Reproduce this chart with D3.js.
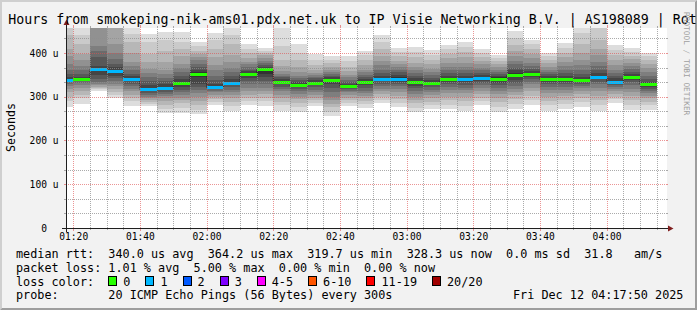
<!DOCTYPE html>
<html>
<head>
<meta charset="utf-8">
<script src="https://cdn.jsdelivr.net/npm/d3@7"></script>
<style>
  body { margin: 0; background: #f2f2f2; }
  svg { display: block; }
  text { font-family: "DejaVu Sans Mono", monospace; }
</style>
</head>
<body>
<svg id="chart" width="697" height="310"></svg>
<script>
// 5 minute bins (start time of each step, UTC)
var slots = ["01:15","01:20","01:25","01:30","01:35","01:40","01:45","01:50","01:55",
             "02:00","02:05","02:10","02:15","02:20","02:25","02:30","02:35","02:40",
             "02:45","02:50","02:55","03:00","03:05","03:10","03:15","03:20","03:25",
             "03:30","03:35","03:40","03:45","03:50","03:55","04:00","04:05","04:10"];

// median rtt per bin, microseconds
var medians = [338, 340, 364, 359.5, 341, 318, 320, 332, 352, 323, 332, 352,
               364, 334, 327.6, 332, 338, 324.6, 334, 341, 341, 334, 332, 341,
               341, 343.6, 341, 350, 352.7, 341, 341, 337.5, 346, 334.5, 346, 328.3];

// lost pings per bin (of 20)
var lost = [1,0,1,1,1,1,1,0,0,1,1,0,0,0,0,0,0,0,0,1,1,0,0,0,1,1,0,0,0,0,0,0,1,1,0,0];

// sorted ping rtts per bin (smoke), microseconds
var pings = [
  [276,290,300,310,318,325,330,334,337,339,341,345,352,362,375,392,410,440,470,500],
  [284,296,305,313,320,326,331,335,338,340,342,346,352,360,370,385,398,420,440,458],
  [314,317,320,323,326,330,334,340,350,362,366,370,390,405,416,470,500,540,600,700],
  [298,305,310,318,325,330,336,342,348,357,362,367,374,386,400,420,470,520,600,700],
  [279,290,298,305,312,318,325,330,335,340,343,347,352,360,370,380,400,424,443,475],
  [279,284,288,292,296,300,304,308,312,316,320,326,335,345,355,363,380,397,425,443],
  [262,272,282,290,296,302,307,311,315,318,322,328,335,343,352,362,380,405,430,448],
  [262,275,285,292,298,304,310,316,322,328,334,340,348,356,365,375,392,410,425,448],
  [260,270,280,290,300,308,315,322,330,345,356,362,368,375,383,390,398,405,415,425],
  [280,288,295,300,305,310,314,317,320,322,325,330,338,348,360,372,390,410,430,445],
  [267,278,288,296,303,310,316,322,327,330,334,340,348,356,365,380,395,420,440,470],
  [280,290,298,305,312,320,328,335,342,350,354,358,362,368,374,380,388,400,410,420],
  [279,290,298,306,314,320,328,336,344,352,365,368,372,376,382,388,395,400,405,412],
  [268,280,288,296,304,312,318,323,328,332,336,340,344,348,352,358,370,385,416,480],
  [266,276,286,294,300,306,312,317,322,326,330,334,338,342,348,356,368,385,400,420],
  [278,286,292,298,304,310,316,322,327,330,334,338,342,346,350,355,362,372,385,398],
  [256,266,276,284,292,300,310,320,330,336,340,344,348,352,356,362,368,376,385,393],
  [279,286,292,298,304,310,314,318,321,324,327,330,334,338,344,350,358,368,382,394],
  [275,283,290,296,302,308,314,320,326,332,336,340,345,350,356,362,372,384,395,404],
  [286,293,300,306,312,318,324,330,335,339,343,348,354,362,372,382,393,410,425,440],
  [277,286,294,302,310,318,325,330,334,338,344,350,356,362,368,374,382,392,402,411],
  [265,275,285,293,300,307,313,319,325,331,337,342,348,354,360,368,378,390,402,414],
  [271,280,288,296,303,310,316,322,327,331,334,338,343,349,356,364,374,385,396,407],
  [271,282,292,300,308,315,322,328,334,339,343,348,354,360,368,378,388,398,408,418],
  [268,278,290,300,308,315,321,327,333,339,343,348,354,360,368,378,390,402,414,426],
  [281,290,298,306,313,320,326,332,337,342,346,350,355,360,366,374,382,390,400,408],
  [264,276,288,298,306,314,320,326,332,338,344,348,352,357,362,368,374,382,388,395],
  [273,284,294,303,311,318,325,332,338,346,354,360,366,374,382,392,404,418,434,451],
  [281,292,302,312,320,328,334,340,346,351,355,359,364,370,378,388,398,408,420,430],
  [268,280,290,300,308,316,322,328,334,339,343,347,351,356,362,368,376,384,392,399],
  [273,283,292,301,309,316,322,328,334,339,343,348,354,362,370,380,390,400,411,422],
  [277,288,298,306,313,319,325,330,334,337,340,345,352,360,372,385,400,420,445,470],
  [268,280,292,302,312,320,328,334,340,344,348,354,362,370,380,395,410,430,460,490],
  [286,294,300,306,312,317,322,327,331,334,337,342,348,355,362,372,384,396,407,418],
  [270,282,292,302,310,318,326,333,339,344,348,352,357,363,370,378,386,394,402,411],
  [270,280,288,296,302,308,313,318,322,326,330,334,340,347,356,365,374,383,392,401]
];

var lossLabels = ["0", "1", "2", "3", "4-5", "6-10", "11-19", "20/20"];
var lossColors = ["#26ff00", "#00b8ff", "#0059ff", "#7e00ff", "#ff00ff", "#ff5500", "#ff0000", "#a10000"];

var yMajor = [0, 100, 200, 300, 400];
var title = "Hours from smokeping-nik-ams01.pdx.net.uk to IP Visie Networking B.V. | AS198089 | Rot";
var legendRtt = "median rtt:  340.0 us avg  364.2 us max  319.7 us min  328.3 us now  0.0 ms sd  31.8   am/s";
var legendLoss = "packet loss: 1.01 % avg  5.00 % max  0.00 % min  0.00 % now";
var legendProbe = "probe:       20 ICMP Echo Pings (56 Bytes) every 300s";
var stamp = "Fri Dec 12 04:17:50 2025";

var START = Date.UTC(2025, 11, 12, 1, 17, 50);
var END = Date.UTC(2025, 11, 12, 4, 17, 50);
var STEP = 300000;

function slotTime(s) {
    var p = s.split(':');
    return Date.UTC(2025, 11, 12, +p[0], +p[1]);
}

var W = 697, H = 310;
var X0 = 66, X1 = 666, Y0 = 228, Y1 = 28;

var x = d3.scaleUtc().domain([START, END]).range([X0, X1]);
var y = d3.scaleLinear().domain([0, 457.14]).range([Y0, Y1]);

var svg = d3.select('#chart');

// background with rrdtool style shade
svg.append('rect').attr('width', W).attr('height', H).attr('fill', '#f2f2f2');
svg.append('path').attr('d', 'M0,0H' + W + 'L' + (W - 2) + ',2H2V' + (H - 2) + 'L0,' + H + 'Z').attr('fill', '#cfcfcf');
svg.append('path').attr('d', 'M' + W + ',0V' + H + 'H0L2,' + (H - 2) + 'H' + (W - 2) + 'V2Z').attr('fill', '#9e9e9e');

svg.append('defs').append('clipPath').attr('id', 'plot')
    .append('rect').attr('x', X0).attr('y', Y1).attr('width', X1 - X0).attr('height', Y0 - Y1);

svg.append('rect').attr('x', X0).attr('y', Y1).attr('width', X1 - X0 + 1).attr('height', Y0 - Y1)
    .attr('fill', '#ffffff');

var plot = svg.append('g').attr('clip-path', 'url(#plot)').attr('shape-rendering', 'crispEdges');

// smoke: band i spans ping i .. ping 21-i, darker toward the middle
var bands = d3.range(1, 11);
slots.forEach(function (s, i) {
    var t0 = slotTime(s);
    var p = pings[i];
    plot.append('g').selectAll('rect')
        .data(bands)
        .enter()
        .append('rect')
        .attr('x', x(t0))
        .attr('width', x(t0 + STEP) - x(t0))
        .attr('y', function (b) { return y(p[20 - b]); })
        .attr('height', function (b) { return y(p[b - 1]) - y(p[20 - b]); })
        .attr('fill', function (b) {
            var c = Math.floor(190 / 10 * (10 - b)) + 50;
            return d3.rgb(c, c, c).formatHex();
        });
});

// median line
var medPts = slots.map(function (s, i) { return [slotTime(s), medians[i]]; });
medPts.push([slotTime(slots[slots.length - 1]) + STEP, medians[medians.length - 1]]);
plot.append('path')
    .attr('d', d3.line().curve(d3.curveStepAfter)
        .x(function (d) { return x(d[0]); })
        .y(function (d) { return Math.round(y(d[1])) + 0.5; })(medPts))
    .attr('fill', 'none')
    .attr('stroke', '#202020')
    .attr('stroke-width', 1)
    .attr('stroke-dasharray', '1,1')
    .attr('shape-rendering', 'auto');

// median coloured by loss
plot.append('g').selectAll('rect')
    .data(slots)
    .enter()
    .append('rect')
    .attr('x', function (s) { return x(slotTime(s)); })
    .attr('width', function (s) { return x(slotTime(s) + STEP) - x(slotTime(s)); })
    .attr('y', function (s, i) { return Math.round(y(medians[i])) - 1; })
    .attr('height', 3)
    .attr('fill', function (s, i) { return lossColors[lost[i]]; });

// grid
var grid = svg.append('g').attr('shape-rendering', 'crispEdges');
var minorT = d3.utcMinute.every(5).range(START, END);
var majorT = d3.utcMinute.every(20).range(START, END);
var minorV = d3.range(1, 14).map(function (k) { return k * 100 / 3; })
    .filter(function (v, k) { return (k + 1) % 3 !== 0 && v < 457; });
var majorV = yMajor.filter(function (v) { return v > 0; });

function vgrid(list, color, tick) {
    list.forEach(function (t) {
        var xx = Math.round(x(t)) + 0.5;
        grid.append('line').attr('x1', xx).attr('x2', xx).attr('y1', Y0).attr('y2', Y1)
            .attr('stroke', color).attr('stroke-dasharray', '1,1');
        grid.append('line').attr('x1', xx).attr('x2', xx).attr('y1', Y0).attr('y2', Y0 + tick)
            .attr('stroke', color);
        grid.append('line').attr('x1', xx).attr('x2', xx).attr('y1', Y1 - tick).attr('y2', Y1)
            .attr('stroke', color);
    });
}
function hgrid(list, color) {
    list.forEach(function (v) {
        var yy = Math.round(y(v)) + 0.5;
        grid.append('line').attr('x1', X0).attr('x2', X1).attr('y1', yy).attr('y2', yy)
            .attr('stroke', color).attr('stroke-dasharray', '1,1');
        grid.append('line').attr('x1', X0 - 2).attr('x2', X0).attr('y1', yy).attr('y2', yy)
            .attr('stroke', color);
        grid.append('line').attr('x1', X1).attr('x2', X1 + 2).attr('y1', yy).attr('y2', yy)
            .attr('stroke', color);
    });
}
var gridCol = 'rgba(143,143,143,0.75)', mgridCol = 'rgba(222,79,79,0.6)';
vgrid(minorT.filter(function (t) { return new Date(t).getUTCMinutes() % 20 !== 0; }), gridCol, 2);
hgrid(minorV, gridCol);
vgrid(majorT, mgridCol, 3);
hgrid(majorV, mgridCol);

// axes
svg.append('line').attr('x1', X0 - 4).attr('x2', X1 + 4).attr('y1', Y0 + 0.5).attr('y2', Y0 + 0.5)
    .attr('stroke', '#1f1f1f').attr('shape-rendering', 'crispEdges');
svg.append('line').attr('x1', X0 + 0.5).attr('x2', X0 + 0.5).attr('y1', Y0 + 4).attr('y2', Y1 - 4)
    .attr('stroke', '#1f1f1f').attr('shape-rendering', 'crispEdges');
svg.append('path').attr('d', 'M' + (X1 + 2) + ',' + (Y0 - 2.5) + 'L' + (X1 + 2) + ',' + (Y0 + 3.5) + 'L' + (X1 + 7.5) + ',' + (Y0 + 0.5) + 'Z')
    .attr('fill', '#801f1f');
svg.append('path').attr('d', 'M' + (X0 - 2.5) + ',' + (Y1 - 3) + 'L' + (X0 + 3.5) + ',' + (Y1 - 3) + 'L' + (X0 + 0.5) + ',' + (Y1 - 8.5) + 'Z')
    .attr('fill', '#801f1f');

var xAxis = svg.append('g').attr('transform', 'translate(0,' + Y0 + ')')
    .call(d3.axisBottom(x).ticks(d3.utcMinute.every(20)).tickFormat(d3.utcFormat('%H:%M'))
        .tickSize(0).tickPadding(5.5));
var yAxis = svg.append('g').attr('transform', 'translate(' + X0 + ',0)')
    .call(d3.axisLeft(y).tickValues(yMajor)
        .tickFormat(function (v) { return v === 0 ? '0  ' : v + ' u'; })
        .tickSize(0).tickPadding(7.5));
[xAxis, yAxis].forEach(function (a) {
    a.select('.domain').remove();
    a.selectAll('text').attr('font-family', '"DejaVu Sans Mono", monospace')
        .attr('font-size', '9.6px').attr('fill', '#000').attr('xml:space', 'preserve');
});

// titles
svg.append('text').attr('x', 8.3).attr('y', 24).attr('font-size', '13.3px').attr('fill', '#000')
    .attr('xml:space', 'preserve').text(title);
svg.append('text').attr('transform', 'translate(15,127.5) rotate(-90)').attr('text-anchor', 'middle')
    .attr('font-size', '11.6px').attr('fill', '#000').text('Seconds');
svg.append('text').attr('transform', 'translate(684,12) rotate(90)')
    .attr('font-size', '7.8px').attr('fill', '#a0a0a0').attr('xml:space', 'preserve')
    .text('RRDTOOL / TOBI OETIKER');

// legend
var lg = svg.append('g').attr('font-size', '11.8px').attr('fill', '#000');
function ltext(tx, ty, str) {
    return lg.append('text').attr('x', tx).attr('y', ty).attr('xml:space', 'preserve').text(str);
}
ltext(16, 258, legendRtt);
ltext(16, 272, legendLoss);
ltext(16, 285.5, 'loss color:');
ltext(16, 299, legendProbe);
ltext(513, 299, stamp);

var cursor = 108.3;
lossLabels.forEach(function (l, i) {
    lg.append('rect').attr('x', Math.round(cursor) + 0.5).attr('y', 276.5).attr('width', 8).attr('height', 9)
        .attr('fill', lossColors[i]).attr('stroke', '#000').attr('shape-rendering', 'crispEdges');
    var t = ltext(cursor + 15, 285.5, l);
    cursor = cursor + 15 + t.node().getComputedTextLength() + 15;
});
</script>
</body>
</html>
